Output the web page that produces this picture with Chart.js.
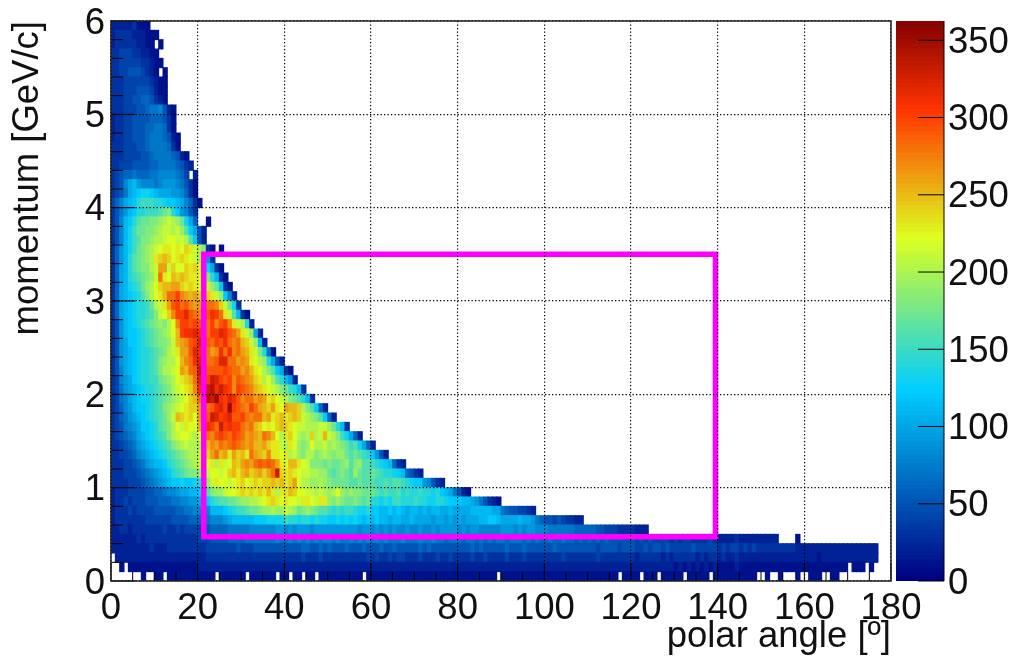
<!DOCTYPE html>
<html>
<head>
<meta charset="utf-8">
<style>
html,body{margin:0;padding:0;background:#fff;width:1014px;height:657px;overflow:hidden}
canvas{position:absolute;left:0;top:0;filter:blur(0.5px)}
</style>
<script src="https://cdn.jsdelivr.net/npm/chart.js@4/dist/chart.umd.js"></script>
</head>
<body>
<canvas id="heat" width="1014" height="657"></canvas>
<canvas id="bar" width="1014" height="657"></canvas>
<script>
// Bin counts, in tens, one base-36 digit per 1 degree bin ('.' = empty bin, spaces ignored).
// First row is the top row of the histogram (5.9-6.0 GeV/c), each next row is 0.1 GeV/c lower.
const countRows = [
"222223111",
"23333222111",
"2333332211.1",
"33444332211",
"334444433211",
"33445554321.1",
"3334444443211",
"3334445554211",
"3334455665321",
"333444556778521",
"233445555666531",
"233445556677631",
"2334455567776521",
"3334445567777631",
"333444455677776521",
"3344455556677776532",
"345667666778888764.2",
"3458ab98887899987531",
"3457abcddcbaaa998631",
"468abcefffeedccba8631",
"3579bceefffghiec9853",
"358bceghhiijklkjhda6..1",
"358bdfhhiijkllkljgca52",
"358bdfgiijkklmmllkgc52",
"369bdfhijklmnnmnmonlki31.1",
"369beghijknopomnonmlkj93",
"36abeghiiklqqlommonommda31",
"36abefghijlsnmpoponnmlieb31",
"36abdefhjkmoppqqononmlljhc31",
"36abcdegikmnpssurqpqononljc82",
"36abcdeefhklnqtustrqqpssrolhd3",
"36abcdeefgilmoruuwtsrrtvusnlgb31",
"359bcdefghijikmruututrsurturnlke2",
"359bccdefghijkmpuvvwvtsuuwvtsqnlja2",
"359accdefghiijlpqrtuwvtsutvsrspoljb2",
"359abcdeefghiklnqqtwvtsqrvsvrsqpnlie71",
"359abcdeefgijkkmprsvwtsstwwssqrqnmkjea52",
"358abcdeefgikklmqpstxvttttutssqrpnmkigca31",
"3489acdeeffhijkmnopswvuxwuturtsrqonkmjgeb92",
"3479abcdeefghiklmnorvwxyvxvurutsrponmlkihfeb3",
"3478abcddefghijklmopsvyxzvuwvtrssqrqnomlkihgeb3",
"34689bccde fgijklmnoo qsstvwuzut srusqpoqnm qppokigc62",
"34679abcde fghjlponom qutxwuvwtt usrsspqnop nopolkjigc 62",
"345789accd eghikmlnmm ptvusxuvuu srspomnmop onmllkkkll jheb3",
"345678abcd efgiklmmlk mqsrtutsut sqrqpsrpmk nomkjkoklp lkifda62",
"3345679abc defgijklkk knprqsrsts rqrppqonnl knmjijmkkl jkjihfgda6 2",
"33445689ab cdefghijkk lnoqspqnqo pnsqpornnm nkljikkijk jijjhghgfe c952",
"333445679a bbcefghijk llmnknlmpo qrqststsqn mppnmliiih ihhijgijgg fedcb632",
"3334445678 9abcefghii jklmmlmopn pqopqoqsxo nonmllkkjj hghihgjhgg hgfeedcb65 32",
"3333444567 89abccdccd ehjlnmmlmn omnonoopop noqmkkjjkj ihhhhgghgg gffgfggfed cc98532",
"2333444455 667889aabb cfgijjlmmn onononpnkn npommllklk jkmjijiihh hgfgffgefe efeedecba7 521",
"2334344455 5666778899 abcefgghhi jjkklmnonm nmmlnnmlnn jijihhihgh eededffeee feeddeedcc cbba975321",
"2333434444 5555566778 888bbbcdef fghhijjkjj lkjhijihgg fefeffedde ccbbcbcbab bababbaaba aaabbbbbaa 76554432",
"2333333344 4444555566 6678889abb bbbcccdddd feedeededd ccdcdcdcbc bcbbabbaab aaaa9aa9a9 a9aaabbccb aaaabaa976 554543322",
"2233233333 3343343444 4456666777 7788888899 8989998999 9999999899 8989898898 8988989999 8989988888 9998989988 8777777666 6655444333 3222",
"2222223233 3333333333 4445555666 6777777787 7878787878 8787787878 7878777877 7877877677 7677676767 7677767676 6766766565 6565655555 5454544443 4344333343 2222322222 2222 ....1",
"2222222223 2223333333 3344444445 4445555555 5555665565 6555655565 5565565555 5656555555 5556565555 5655565555 5565555555 5545555455 5445455454 4444544444 3434434343 3333333322 2222222222 2222222",
".222222222 2222222222 2233333333 3333333333 3333433343 3333333334 3433434433 3433343343 3334334333 3433343333 3333433333 3343333333 3233333232 3333323233 2322322222 2222222222 2221222222 2222222",
"..1.111111 1111111111 2222222222 2222222222 2222222222 2222222222 2222222222 2222222222 2222222222 2222222222 2222222222 2222222222 2222222222 1212121212 1111211111 1111111111 1111111111 .111.1",
".......1.. 11.1111111 1111.11111 1.111111.1 1.11.11.11 11111111.1 1111111111 1111111111 111111111. 1111111111 1111111111 1111111.11 11.111.111 11.11111.1 111111111. .1..1...1. .111..11"
];
const xBinWidth = 1;
const yBinWidth = 0.1;
const xTickValues = [0,20,40,60,80,100,120,140,160,180];
const yTickValues = [0,1,2,3,4,5,6];
const zTickValues = [0,50,100,150,200,250,300,350];
const zMax = 362.5;
const boxAngles = [21.4,139.5,139.5,21.4,21.4];
const boxMomenta = [0.475,0.475,3.5,3.5,0.475];
const paletteStops = [0,0.34,0.61,0.84,1];
const paletteRed = [0,0,222,255,130];
const paletteGreen = [0,207,255,51,0];
const paletteBlue = [130,255,31,0,0];
const frameColor = '#222';
const fontFamily = '"Liberation Sans", Arial, sans-serif';

function colorFor(v){
  const t = Math.min(1,Math.max(0,v/zMax));
  let k = 0;
  while(k<paletteStops.length-2 && t>paletteStops[k+1]) k++;
  const f = (t-paletteStops[k])/(paletteStops[k+1]-paletteStops[k]);
  const c = a => Math.round(a[k]+(a[k+1]-a[k])*f);
  return 'rgb('+c(paletteRed)+','+c(paletteGreen)+','+c(paletteBlue)+')';
}

const cells = [], cellColors = [];
countRows.forEach((text,r)=>{
  const row = text.replace(/\s/g,'');
  const lo = 6-(r+1)*yBinWidth;
  for(let i=0;i<row.length;i++){
    if(row[i]==='.') continue;
    const v = parseInt(row[i],36)*10;
    cells.push({x:(i+0.5)*xBinWidth,y:[lo,lo+yBinWidth]});
    cellColors.push(colorFor(v));
  }
});

const noScalePadding = s => { s.paddingTop=0; s.paddingBottom=0; s.paddingLeft=0; s.paddingRight=0; };

// The reference's vertical-axis numbers sit slightly below their tick positions.
const nudgeLabels = {
  id:'nudgeLabels',
  beforeDraw(chart){
    const s = chart.scales.y;
    s.getLabelItems().forEach(item=>{
      if(!item.options._nudged){ item.options.translation[1]+=2.5; item.options._nudged=true; }
    });
  }
};

const innerTicks = {
  id:'innerTicks',
  afterDraw(chart){
    const c = chart.ctx, a = chart.chartArea, x = chart.scales.x, y = chart.scales.y;
    c.save();
    c.strokeStyle = '#000'; c.lineWidth = 1;
    c.beginPath();
    for(let v=0;v<=180;v+=5){
      const p = x.getPixelForValue(v), len = v%20===0?18:9;
      c.moveTo(p,a.bottom); c.lineTo(p,a.bottom-len);
    }
    for(let n=0;n<=30;n++){
      const p = y.getPixelForValue(n/5), len = n%5===0?24:12;
      c.moveTo(a.left,p); c.lineTo(a.left+len,p);
    }
    c.stroke();
    c.strokeStyle = frameColor; c.lineWidth = 1.5;
    c.strokeRect(a.left,a.top,a.right-a.left,a.bottom-a.top);
    c.restore();
  }
};

new Chart(document.getElementById('heat'),{
  type:'bar',
  data:{datasets:[
    {type:'line',order:0,data:boxAngles.map((x,i)=>({x,y:boxMomenta[i]})),borderColor:'#ff00ff',borderWidth:5.5,
     pointRadius:0,tension:0,fill:false,borderJoinStyle:'miter',borderCapStyle:'square',clip:false},
    {type:'bar',order:1,data:cells,backgroundColor:cellColors,borderWidth:0,grouped:false,
     barPercentage:1,categoryPercentage:1,inflateAmount:0.5}
  ]},
  plugins:[innerTicks,nudgeLabels],
  options:{
    responsive:false,animation:false,
    layout:{padding:{left:0,right:123,top:21,bottom:0}},
    plugins:{legend:{display:false},tooltip:{enabled:false},title:{display:false}},
    scales:{
      x:{type:'linear',min:0,max:180,offset:false,
        afterFit:s=>{s.height=76;noScalePadding(s)},
        afterBuildTicks:s=>{s.ticks=xTickValues.map(value=>({value}))},
        grid:{offset:false,z:1,color:'#000',lineWidth:1.2,drawTicks:false,tickLength:0},
        border:{display:false,dash:[1.3,2.2]},
        ticks:{color:'#111',font:{family:fontFamily,size:36.5},padding:6,maxRotation:0,autoSkip:false,callback:v=>String(v)},
        title:{display:true,text:'polar angle [º]',align:'end',color:'#111',font:{family:fontFamily,size:36.5,lineHeight:1},padding:{top:0,bottom:1.5}}
      },
      y:{type:'linear',min:0,max:6,
        afterFit:s=>{s.width=111;noScalePadding(s)},
        afterBuildTicks:s=>{s.ticks=yTickValues.map(value=>({value}))},
        grid:{z:1,color:'#000',lineWidth:1.2,drawTicks:false,tickLength:0},
        border:{display:false,dash:[1.3,2.2]},
        ticks:{color:'#111',font:{family:fontFamily,size:36.5},padding:6,autoSkip:false,callback:v=>String(v)},
        title:{display:true,text:'momentum [GeV/c]',align:'end',color:'#111',font:{family:fontFamily,size:36.5,lineHeight:1},padding:{top:9.5,bottom:0}}
      }
    }
  }
});

// Colour bar: one thin bar per palette level on its own count axis.
const levelCount = 128;
const levels = Array.from({length:levelCount},(_, i)=>i*zMax/levelCount);
const barTicks = {
  id:'barTicks',
  afterDraw(chart){
    const c = chart.ctx, a = chart.chartArea, y = chart.scales.y;
    c.save();
    c.strokeStyle = '#000'; c.lineWidth = 1;
    c.beginPath();
    zTickValues.forEach(v=>{const p=y.getPixelForValue(v); c.moveTo(a.right,p); c.lineTo(a.right-26,p);});
    c.moveTo(a.right,a.top); c.lineTo(a.right,a.bottom);
    c.stroke();
    c.restore();
  }
};
new Chart(document.getElementById('bar'),{
  type:'bar',
  data:{labels:levels.map(String),datasets:[{
    data:levels.map(v=>({x:0.5,y:[v,v+zMax/levelCount]})),
    backgroundColor:levels.map(colorFor),borderWidth:0,grouped:false,barThickness:48,inflateAmount:0.5
  }]},
  plugins:[barTicks,nudgeLabels],
  options:{
    responsive:false,animation:false,
    layout:{padding:{left:896,right:0,top:21,bottom:76}},
    plugins:{legend:{display:false},tooltip:{enabled:false}},
    scales:{
      x:{type:'linear',min:0,max:1,display:false,offset:false,grid:{offset:false}},
      y:{type:'linear',position:'right',min:0,max:zMax,
        afterFit:s=>{s.width=70;noScalePadding(s)},
        afterBuildTicks:s=>{s.ticks=zTickValues.map(value=>({value}))},
        grid:{display:false,drawTicks:false,tickLength:0},border:{display:false},
        ticks:{color:'#111',font:{family:fontFamily,size:36.5},padding:4,autoSkip:false,callback:v=>String(v)}
      }
    }
  }
});
</script>
</body>
</html>
